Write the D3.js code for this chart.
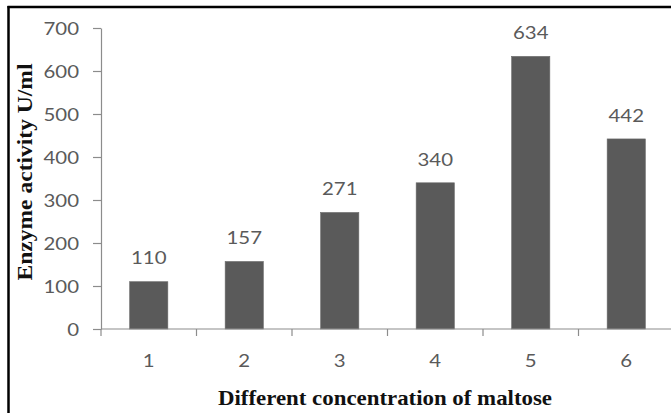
<!DOCTYPE html>
<html>
<head>
<meta charset="utf-8">
<script src="https://cdn.jsdelivr.net/npm/d3@7"></script>
<style>
  html, body { margin: 0; padding: 0; background: #fff; }
  svg { display: block; }
</style>
</head>
<body>
<svg id="chart" width="671" height="413"></svg>
<script>
// Enzyme activity for each maltose concentration level
const categories = ["1", "2", "3", "4", "5", "6"];
const activity = [110, 157, 271, 340, 634, 442];
const yTicks = [0, 100, 200, 300, 400, 500, 600, 700];
const xTitle = "Different concentration of maltose";
const yTitle = "Enzyme activity U/ml";

const W = 671, H = 413;
const plot = { left: 101, right: 674, top: 28, bottom: 329 };
const numFont = "Lato, 'Open Sans', sans-serif";
const serif = "'Liberation Serif', 'DejaVu Serif', serif";
const sx = 1.2; // numbers are drawn slightly wide

const svg = d3.select("#chart");
svg.append("rect").attr("width", W).attr("height", H).attr("fill", "#fff");

const x = d3.scaleBand()
  .domain(categories)
  .range([plot.left, plot.right])
  .paddingInner(0.6)
  .paddingOuter(0.3);

const y = d3.scaleLinear().domain([0, 700]).range([plot.bottom, plot.top]);

// y axis
const yAxis = svg.append("g")
  .attr("transform", `translate(${plot.left},0)`)
  .call(d3.axisLeft(y).tickValues(yTicks).tickSize(8).tickSizeOuter(0).tickPadding(0));
yAxis.select(".domain").attr("stroke", "#8c8c8c").attr("stroke-width", 1.2);
yAxis.selectAll(".tick line").attr("stroke", "#8c8c8c").attr("stroke-width", 1.2);
yAxis.selectAll(".tick text")
  .attr("x", 0).attr("dy", null)
  .attr("transform", `translate(-22,0) scale(${sx},1)`)
  .attr("dominant-baseline", "central")
  .attr("font-family", numFont)
  .attr("font-size", 17)
  .attr("fill", "#5a5a5a");

// bars
svg.append("g").selectAll("rect")
  .data(activity)
  .join("rect")
  .attr("x", (d, i) => x(categories[i]))
  .attr("y", d => y(d))
  .attr("width", x.bandwidth())
  .attr("height", d => y(0) - y(d))
  .attr("fill", "#5a5a5a")
  .attr("stroke", "#6a6a6a")
  .attr("stroke-width", 0.6);

// value labels above bars
svg.append("g").selectAll("text")
  .data(activity)
  .join("text")
  .attr("transform", (d, i) =>
    `translate(${x(categories[i]) + x.bandwidth() / 2},${y(d) - 24}) scale(${sx},1)`)
  .attr("text-anchor", "middle")
  .attr("dominant-baseline", "central")
  .attr("font-family", numFont)
  .attr("font-size", 17)
  .attr("fill", "#5a5a5a")
  .text(d => d);

// x axis with ticks between categories
const xAxis = svg.append("g");
xAxis.append("line")
  .attr("x1", plot.left).attr("x2", plot.right)
  .attr("y1", y(0)).attr("y2", y(0))
  .attr("stroke", "#8c8c8c").attr("stroke-width", 1.2);
const step = x.step();
const bounds = d3.range(categories.length + 1).map(i => plot.left + i * step);
xAxis.selectAll("line.b")
  .data(bounds)
  .join("line")
  .attr("class", "b")
  .attr("x1", d => d).attr("x2", d => d)
  .attr("y1", y(0)).attr("y2", y(0) + 7)
  .attr("stroke", "#8c8c8c").attr("stroke-width", 1.2);
xAxis.selectAll("text")
  .data(categories)
  .join("text")
  .attr("transform", d => `translate(${x(d) + x.bandwidth() / 2},${y(0) + 31}) scale(${sx},1)`)
  .attr("text-anchor", "middle")
  .attr("dominant-baseline", "central")
  .attr("font-family", numFont)
  .attr("font-size", 17)
  .attr("fill", "#5a5a5a")
  .text(d => d);

// axis titles
svg.append("text")
  .attr("x", 385).attr("y", 397)
  .attr("text-anchor", "middle")
  .attr("dominant-baseline", "central")
  .attr("font-family", serif)
  .attr("font-weight", "bold")
  .attr("font-size", 22)
  .attr("textLength", 334)
  .attr("lengthAdjust", "spacingAndGlyphs")
  .attr("fill", "#111")
  .text(xTitle);

svg.append("text")
  .attr("transform", "translate(24,172) rotate(-90)")
  .attr("text-anchor", "middle")
  .attr("dominant-baseline", "central")
  .attr("font-family", serif)
  .attr("font-weight", "bold")
  .attr("font-size", 22)
  .attr("textLength", 217)
  .attr("lengthAdjust", "spacingAndGlyphs")
  .attr("fill", "#111")
  .text(yTitle);

// frame edges
svg.append("line").attr("x1", 7.5).attr("x2", W).attr("y1", 7).attr("y2", 7)
  .attr("stroke", "#000").attr("stroke-width", 2.5);
svg.append("line").attr("x1", 8.5).attr("x2", 8.5).attr("y1", 6).attr("y2", H)
  .attr("stroke", "#000").attr("stroke-width", 2.5);
</script>
</body>
</html>
